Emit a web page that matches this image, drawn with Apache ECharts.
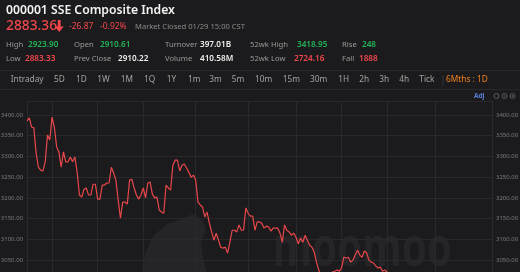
<!DOCTYPE html>
<html><head><meta charset="utf-8">
<script src="https://cdn.jsdelivr.net/npm/echarts@6/dist/echarts.min.js"></script>
<style>html,body{margin:0;padding:0;background:#1b1b1d;}#c{width:520px;height:272px;}</style>
</head><body><div id="c"></div>
<script>
// ---- data ----
const dayCount = 205;
const categories = Array.from({length: dayCount}, (_, i) => 'D' + (i + 1));
const closeValues = [
3386,3393,3371,3369,3308,3274,3267,3265,3287,3352,3340,3395,3371,3323,3311,3274,3311,3287,3287,3299,
3287,3299,3262,3207,3202,3221,3224,3207,3207,3233,3233,3197,3197,3231,3231,3236,3236,3274,3260,3243,
3195,3151,3190,3190,3185,3243,3245,3224,3207,3197,3207,3224,3200,3236,3238,3209,3200,3202,3171,3166,
3163,3231,3224,3219,3279,3291,3291,3265,3279,3282,3272,3262,3250,3255,3243,3190,3183,3178,3154,3166,
3139,3118,3098,3115,3098,3081,3079,3081,3067,3093,3122,3122,3118,3135,3122,3122,3176,3163,3156,3156,
3122,3142,3142,3139,3127,3132,3130,3120,3127,3127,3127,3115,3093,3135,3122,3118,3110,3115,3105,3089,
3103,3093,3110,3098,3086,3081,3069,3045,3026,3011,3002,2997,3002,3011,3021,3023,3026,3023,3031,3057,
3055,3057,3045,3050,3062,3074,3062,3057,3072,3067,3050,3045,3043,3036,3031,3033,3023,3026,3021,3008,
2996,2985
];
const monthLineIdx = [0, 11, 31, 51, 74, 97, 118, 138, 158, 179, 204];
const yTickLabels = [3050, 3100, 3150, 3200, 3250, 3300, 3350, 3400];

const title = '000001 SSE Composite Index';
const lastPrice = '2883.36';
const change = '-26.87';
const changePct = '-0.92%';
const status = 'Market Closed 01/29 15:00 CST';
const statRow1 = [['High','2923.90','g'],['Open','2910.61','g'],['Turnover','397.01B','w'],['52wk High','3418.95','g'],['Rise','248','g']];
const statRow2 = [['Low','2883.33','r'],['Prev Close','2910.22','w'],['Volume','410.58M','w'],['52wk Low','2724.16','r'],['Fall','1888','r']];
const tabLabels = ['Intraday','5D','1D','1W','1M','1Q','1Y','1m','3m','5m','10m','15m','30m','1H','2h','3h','4h','Tick'];
const activeTab = '6Mths : 1D';

// ---- layout / style ----
const RED = '#f2474b', GREEN = '#22b556', WHITE = '#ececec', GRAY = '#9a9a9a';
const FONT = '"Noto Sans", "Open Sans", sans-serif';
const labX1 = [6, 74, 165, 250, 342], valX1 = [28, 100, 200, 297, 362];
const labX2 = [6, 74, 165, 250, 342], valX2 = [25, 118, 200, 294, 359];
const tabX = [10.7,54,76,97.3,120.7,144,166.7,188,209.3,231.7,255,282.7,310,338.3,359.3,379.3,399.3,419.3];
const colorOf = {g: GREEN, r: RED, w: WHITE};

function txt(x, y, s, size, color, weight, family, extra) {
  return Object.assign({
    type: 'text', x: x, y: y, silent: true,
    style: { text: s, fill: color, fontSize: size, fontWeight: weight || 'normal', fontFamily: family || FONT,
             verticalAlign: 'middle', textVerticalAlign: 'middle', align: 'left', textAlign: 'left' }
  }, extra || {});
}

const g = [];
g.push({type:'rect', shape:{x:0,y:70,width:520,height:1}, style:{fill:'#28282a'}, silent:true});
g.push({type:'rect', shape:{x:0,y:89,width:520,height:1}, style:{fill:'#28282a'}, silent:true});
// watermark
g.push({type:'polygon', silent:true, z:-1, shape:{points:[[142,274],[145,254],[153,236],[167,224],[182,219],[193,214],[202,220],[206,229],[201,242],[203,258],[207,274]]}, style:{fill:'#252527'}});
g.push(txt(213, 250, 'moomoo', 56, '#252527', 'bold', null, {z:-1, scaleX: 0.72, originX:213, originY:250}));

g.push(txt(6, 10.5, title, 12.2, '#f2f2f2', 600));
g.push(txt(6, 26.5, lastPrice, 13.8, RED, 500));
g.push({type:'polygon', silent:true, shape:{points:[[57.8,20],[60.6,20],[60.6,26.5],[63.7,26.5],[59.2,32],[54.7,26.5],[57.8,26.5]]}, style:{fill:RED}});
g.push(txt(69, 27, change, 8.5, RED));
g.push(txt(100, 27, changePct, 8.5, RED));
g.push(txt(135, 27, status, 7.6, '#8a8a8a'));
statRow1.forEach((r, i) => { g.push(txt(labX1[i], 45, r[0], 7.7, GRAY)); g.push(txt(valX1[i], 45, r[1], 8.2, colorOf[r[2]], 600)); });
statRow2.forEach((r, i) => { g.push(txt(labX2[i], 58.5, r[0], 7.7, GRAY)); g.push(txt(valX2[i], 58.5, r[1], 8.2, colorOf[r[2]], 600)); });
tabLabels.forEach((t, i) => g.push(txt(tabX[i], 80, t, 8.3, '#a2a2a2')));
g.push({type:'rect', shape:{x:442.5,y:75,width:0.8,height:11}, style:{fill:'#3a3a3c'}, silent:true});
g.push(txt(446, 80, activeTab, 8.3, '#f08020'));
g.push(txt(474, 96, 'Adj', 6.5, '#5a7fd8', 'bold'));
g.push({type:'circle', shape:{cx:496.5,cy:96,r:2.5}, style:{stroke:'#6a6a6c',fill:null,lineWidth:0.8}, silent:true});
g.push({type:'circle', shape:{cx:504.5,cy:96,r:2.5}, style:{stroke:'#6a6a6c',fill:null,lineWidth:0.8}, silent:true});
g.push({type:'circle', shape:{cx:504.5,cy:96,r:0.7}, style:{fill:'#6a6a6c'}, silent:true});
g.push({type:'circle', shape:{cx:512.5,cy:96,r:2.5}, style:{stroke:'#6a6a6c',fill:null,lineWidth:0.8}, silent:true});
g.push({type:'circle', shape:{cx:512.5,cy:96,r:0.9}, style:{fill:'#6a6a6c'}, silent:true});

const yMin = 2850, yMax = 3433.8;
function yAxisCfg(pos, showSplit) {
  return {
    type: 'value', position: pos, min: yMin, max: yMax, interval: 50,
    axisLine: {show: false}, axisTick: {show: false},
    splitLine: {show: showSplit, lineStyle: {color: '#29292b', width: 1}},
    axisLabel: {
      show: true, margin: 4, fontSize: 6, color: '#7c7c7c', fontFamily: FONT,
      formatter: v => yTickLabels.indexOf(Math.round(v)) >= 0 ? v.toFixed(2) : ''
    }
  };
}

const chart = echarts.init(document.getElementById('c'), null, {renderer: 'canvas'});
chart.setOption({
  backgroundColor: '#1b1b1d',
  animation: false,
  grid: {left: 27, right: 28, top: 101, height: 242, containLabel: false, outerBoundsMode: 'none'},
  xAxis: {
    type: 'category', data: categories, boundaryGap: false,
    axisLine: {show: false}, axisTick: {show: false}, axisLabel: {show: false},
    splitLine: {show: true, interval: (idx) => monthLineIdx.indexOf(idx) >= 0, lineStyle: {color: '#29292b', width: 1}}
  },
  yAxis: [yAxisCfg('left', true), yAxisCfg('right', false)],
  series: [{
    type: 'line', data: closeValues, showSymbol: false, symbol: 'none',
    lineStyle: {color: '#e8474a', width: 1.2}, z: 3
  }],
  graphic: g
});
</script></body></html>
